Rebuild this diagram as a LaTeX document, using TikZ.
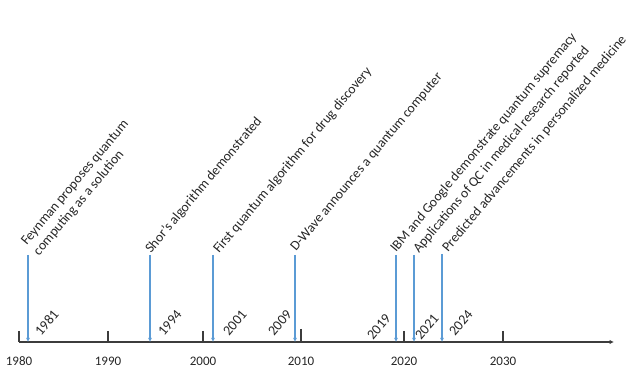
\documentclass[tikz,border=0pt]{standalone}
\usepackage{fontspec}
\setmainfont{Carlito}
\usetikzlibrary{arrows.meta}

\definecolor{evblue}{RGB}{91,155,213}
\definecolor{axisgray}{RGB}{60,60,60}

\tikzset{
  evarrow/.style={draw=evblue, line width=1.1pt, -{Latex[length=4pt,width=4pt]}},
  evlabel/.style={anchor=base west, rotate=50, inner sep=0pt, font=\fontsize{13.7}{16}\selectfont, text=black!85},
  yrlabel/.style={anchor=base west, rotate=50, inner sep=0pt, font=\fontsize{14}{15}\selectfont, text=black!85},
  decade/.style={font=\fontsize{13}{15}\selectfont, text=black!85},
  tick/.style={draw=axisgray, line width=1.1pt},
}

\begin{document}
\begin{tikzpicture}[x=1pt, y=1pt]
  \useasboundingbox (0,0) rectangle (639,369);

  % time axis
  \coordinate (ax0) at (19,27);
  \coordinate (ax1) at (614,27);
  \draw[axisgray, line width=1.2pt, -{Latex[length=4.5pt,width=4.5pt]}] (ax0) -- (ax1);

  % decade ticks
  \coordinate (k1980) at (19,38);
  \coordinate (k1990) at (108,38);
  \coordinate (k2000) at (203,38);
  \coordinate (k2010) at (301,40);
  \coordinate (k2020) at (404,38);
  \coordinate (k2030) at (503,38);
  \draw[tick] (k1980) -- (k1980 |- ax0);
  \draw[tick] (k1990) -- (k1990 |- ax0);
  \draw[tick] (k2000) -- (k2000 |- ax0);
  \draw[tick] (k2010) -- (k2010 |- ax0);
  \draw[tick] (k2020) -- (k2020 |- ax0);
  \draw[tick] (k2030) -- (k2030 |- ax0);

  \node[decade, at={(19,8)}] (d1980) {1980};
  \node[decade, at={(108,8)}] (d1990) {1990};
  \node[decade, at={(203,8)}] (d2000) {2000};
  \node[decade, at={(301,8)}] (d2010) {2010};
  \node[decade, at={(404,8)}] (d2020) {2020};
  \node[decade, at={(503,8)}] (d2030) {2030};

  % events
  \coordinate (e1981) at (28,114);
  \coordinate (e1994) at (150,114);
  \coordinate (e2001) at (213,114);
  \coordinate (e2009) at (295,114);
  \coordinate (e2019) at (396,114);
  \coordinate (e2021) at (414,114);
  \coordinate (e2024) at (442,115);
  \draw[evarrow] (e1981) -- (e1981 |- ax0);
  \draw[evarrow] (e1994) -- (e1994 |- ax0);
  \draw[evarrow] (e2001) -- (e2001 |- ax0);
  \draw[evarrow] (e2009) -- (e2009 |- ax0);
  \draw[evarrow] (e2019) -- (e2019 |- ax0);
  \draw[evarrow] (e2021) -- (e2021 |- ax0);
  \draw[evarrow] (e2024) -- (e2024 |- ax0);

  % event texts
  \node[evlabel, anchor=south west, align=left, at={(41,111)}] (l1981) {Feynman proposes quantum\\computing as a solution};
  \node[evlabel, at={(151,115)}] (l1994) {Shor's algorithm demonstrated};
  \node[evlabel, at={(219,115)}] (l2001) {First quantum algorithm for drug discovery};
  \node[evlabel, at={(296,117)}] (l2009) {D-Wave announces a quantum computer};
  \node[evlabel, at={(396,116)}] (l2019) {IBM and Google demonstrate quantum supremacy};
  \node[evlabel, at={(419,115)}] (l2021) {Applications of QC in medical research reported};
  \node[evlabel, at={(448,116)}] (l2024) {Predicted advancements in personalized medicine};

  % year texts
  \node[yrlabel, at={(41,32)}] (y1981) {1981};
  \node[yrlabel, at={(164,32)}] (y1994) {1994};
  \node[yrlabel, at={(229,32)}] (y2001) {2001};
  \node[yrlabel, at={(274,32)}] (y2009) {2009};
  \node[yrlabel, at={(373,28)}] (y2019) {2019};
  \node[yrlabel, at={(421,28)}] (y2021) {2021};
  \node[yrlabel, at={(455,32)}] (y2024) {2024};
\end{tikzpicture}
\end{document}
